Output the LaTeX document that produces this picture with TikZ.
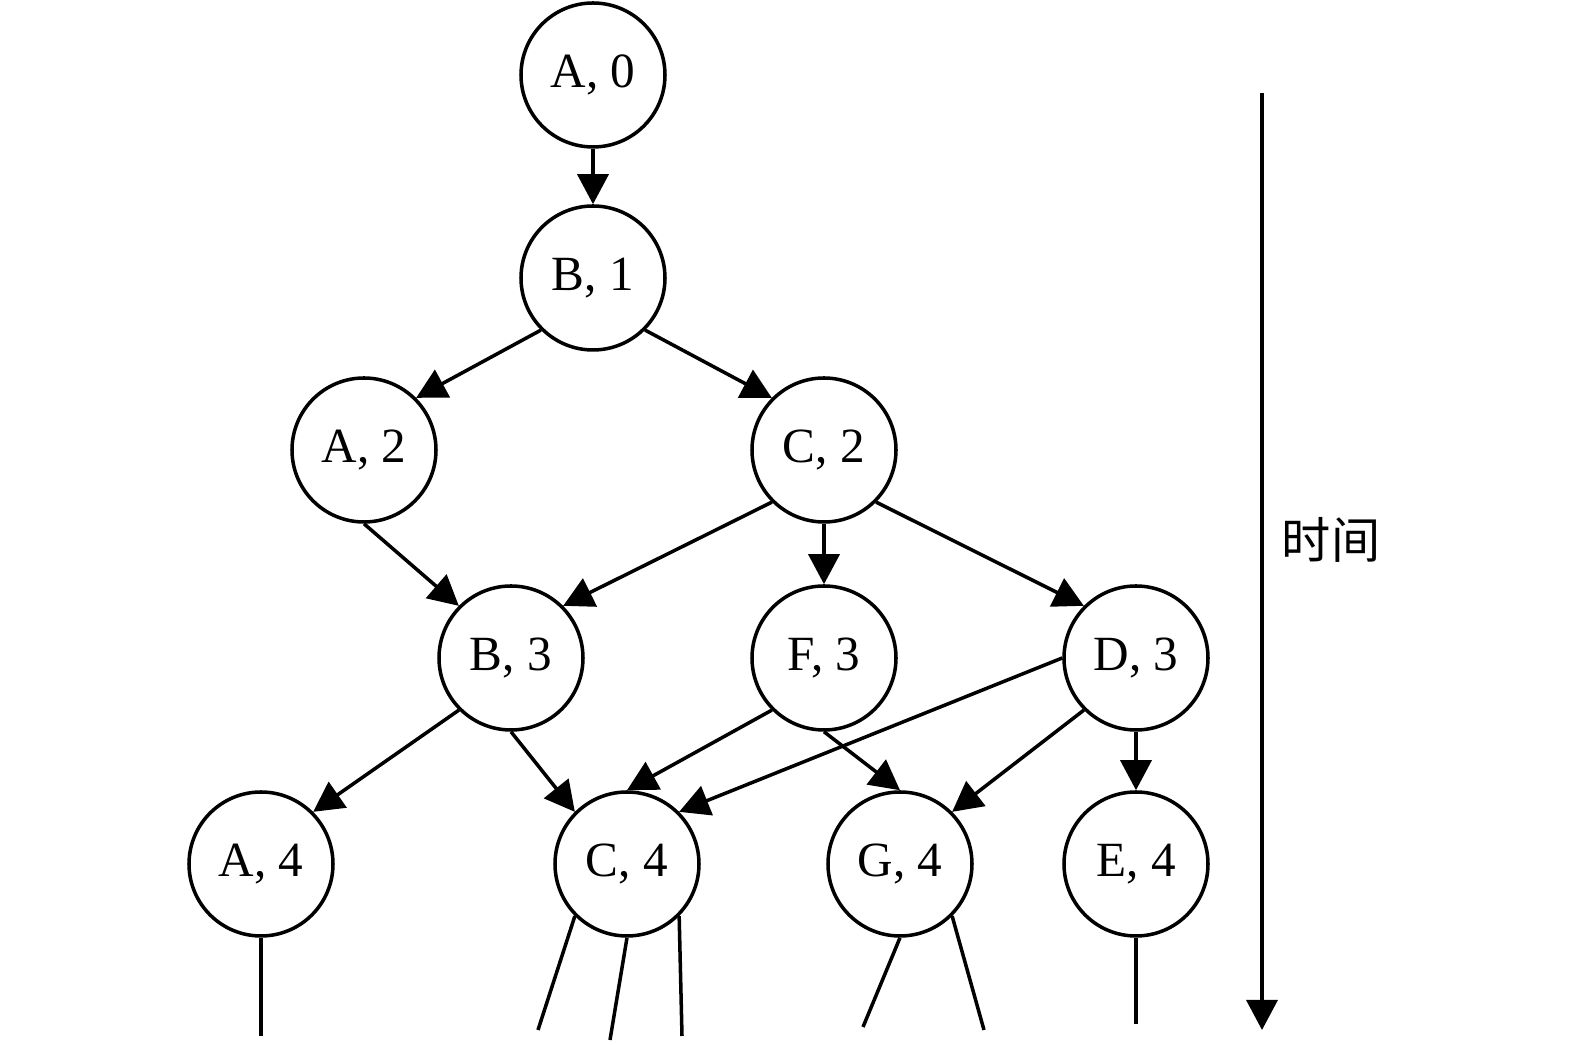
\documentclass[tikz,border=0pt]{standalone}
\usepackage{fontspec}
\setmainfont{Liberation Serif}
\newfontfamily\cjk{Noto Sans CJK SC}
\usetikzlibrary{arrows.meta}

\begin{document}
\begin{tikzpicture}[line width=1pt,
    st/.style={circle, draw, minimum size=1.44cm, inner sep=0pt, font=\fontsize{14}{16}\selectfont},
    tr/.style={-{Triangle[length=0.3cm,width=0.31cm]}}]
    \useasboundingbox (0,0) rectangle (15.75,10.45);
    \node[st] (A0) at (5.93,9.70) {A, 0};
    \node[st] (B1) at (5.93,7.67) {B, 1};
    \node[st] (A2) at (3.64,5.95) {A, 2};
    \node[st] (C2) at (8.24,5.95) {C, 2};
    \node[st] (B3) at (5.11,3.87) {B, 3};
    \node[st] (F3) at (8.24,3.87) {F, 3};
    \node[st] (D3) at (11.36,3.87) {D, 3};
    \node[st] (A4) at (2.61,1.81) {A, 4};
    \node[st] (C4) at (6.27,1.81) {C, 4};
    \node[st] (G4) at (9.00,1.81) {G, 4};
    \node[st] (E4) at (11.36,1.81) {E, 4};
    \draw[tr] (A0.south) -- (B1.north);
    \draw[tr] (B1.south west) -- (A2.north east);
    \draw[tr] (B1.south east) -- (C2.north west);
    \draw[tr] (A2.south) -- (B3.north west);
    \draw[tr] (C2.south west) -- (B3.north east);
    \draw[tr] (C2.south) -- (F3.north);
    \draw[tr] (C2.south east) -- (D3.north west);
    \draw[tr] (B3.south west) -- (A4.north east);
    \draw[tr] (B3.south) -- (C4.north west);
    \draw[tr] (F3.south west) -- (C4.north);
    \draw[tr] (F3.south) -- (G4.north);
    \draw[tr] (D3.west) -- (C4.north east);
    \draw[tr] (D3.south west) -- (G4.north east);
    \draw[tr] (D3.south) -- (E4.north);
    % loose ends
    \coordinate (a1) at (2.61,0.09);
    \coordinate (c1) at (5.38,0.15);
    \coordinate (c2) at (6.10,0.05);
    \coordinate (c3) at (6.82,0.09);
    \coordinate (g1) at (8.63,0.18);
    \coordinate (g2) at (9.84,0.15);
    \coordinate (e1) at (11.36,0.21);
    \draw (A4.south) -- (a1);
    \draw (C4.south west) -- (c1);
    \draw (C4.south) -- (c2);
    \draw (C4.south east) -- (c3);
    \draw (G4.south) -- (g1);
    \draw (G4.south east) -- (g2);
    \draw (E4.south) -- (e1);
    % time axis
    \coordinate (t0) at (12.62,9.52);
    \coordinate (t1) at (12.62,0.15);
    \draw[tr] (t0) -- (t1);
    \node[font=\cjk\fontsize{14}{16}\selectfont] (time) at (13.31,5.05) {时间};
\end{tikzpicture}
\end{document}
